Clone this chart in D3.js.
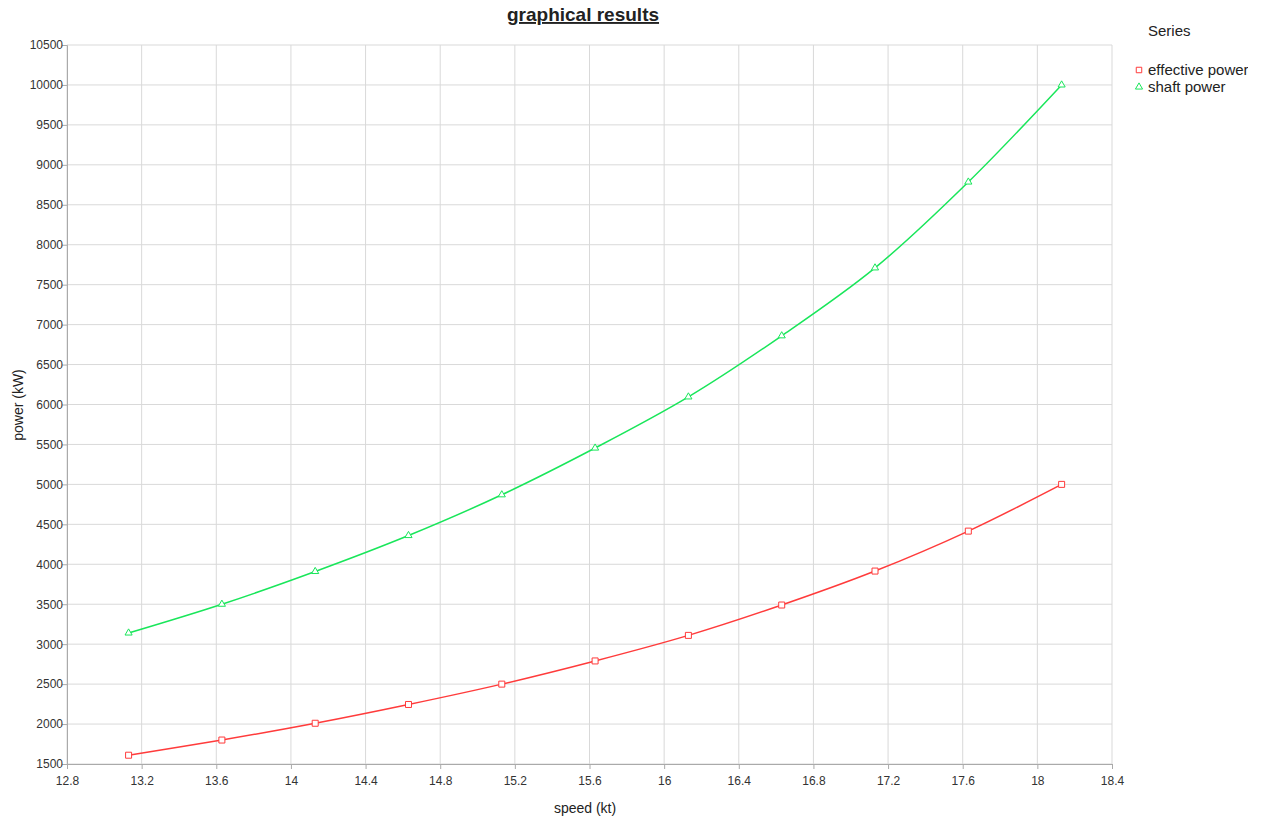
<!DOCTYPE html>
<html>
<head>
<meta charset="utf-8">
<script src="https://cdn.jsdelivr.net/npm/d3@7"></script>
<style>
  body { margin: 0; background: #fff; font-family: "Liberation Sans", Arial, sans-serif; }
  .tick text { fill: #333; font-size: 12px; }
</style>
</head>
<body>
<script>
const w = 1268, h = 821

// speed (kt)
const speeds = [13.13, 13.63, 14.13, 14.63, 15.13, 15.63, 16.13, 16.63, 17.13, 17.63, 18.13]
// power (kW)
const effectivePower = [1610, 1800, 2010, 2245, 2500, 2790, 3110, 3490, 3915, 4415, 5000]
const shaftPower = [3140, 3500, 3910, 4360, 4870, 5455, 6095, 6860, 7710, 8785, 10000]

const xTicks = [12.8, 13.2, 13.6, 14, 14.4, 14.8, 15.2, 15.6, 16, 16.4, 16.8, 17.2, 17.6, 18, 18.4]
const yTicks = d3.range(1500, 10501, 500)

const seriesNames = ['effective power', 'shaft power']
const seriesColors = ['#ff3b3b', '#19e65a']

const margin = { left: 67, right: 156, top: 45, bottom: 57 }

const svg = d3.select('body')
    .append('svg')
    .attr('width', w)
    .attr('height', h)

svg.append('clipPath')
    .attr('id', 'legend-clip')
    .append('rect')
    .attr('x', 1120)
    .attr('y', 0)
    .attr('width', 128)
    .attr('height', 200)

const xScale = d3.scaleLinear()
    .domain([12.8, 18.4])
    .range([margin.left, w - margin.right])

const yScale = d3.scaleLinear()
    .domain([1500, 10500])
    .range([h - margin.bottom, margin.top])

// grid
svg.append('g')
    .selectAll('line')
    .data(xTicks)
    .enter()
    .append('line')
    .attr('x1', d => xScale(d))
    .attr('x2', d => xScale(d))
    .attr('y1', yScale(1500))
    .attr('y2', yScale(10500))
    .attr('stroke', '#d9d9d9')

svg.append('g')
    .selectAll('line')
    .data(yTicks)
    .enter()
    .append('line')
    .attr('x1', xScale(12.8))
    .attr('x2', xScale(18.4))
    .attr('y1', d => yScale(d))
    .attr('y2', d => yScale(d))
    .attr('stroke', '#d9d9d9')

const xAxis = d3.axisBottom(xScale).tickValues(xTicks).tickFormat(d3.format('')).tickSizeOuter(0).tickSize(5)
const yAxis = d3.axisLeft(yScale).tickValues(yTicks).tickFormat(d3.format('d')).tickSizeOuter(0).tickSize(5)

const gx = svg.append('g')
    .attr('transform', 'translate(0, ' + yScale(1500) + ')')
    .call(xAxis)
gx.selectAll('.tick text').attr('dy', '1.1em')

const gy = svg.append('g')
    .attr('transform', 'translate(' + xScale(12.8) + ', 0)')
    .call(yAxis)
gy.selectAll('.tick text').attr('x', -4)

svg.selectAll('.domain, .tick line').attr('stroke', '#aaa')

// series
const series = [effectivePower, shaftPower]
const line = d3.line()
    .x((d, i) => xScale(speeds[i]))
    .y(d => yScale(d))
    .curve(d3.curveCatmullRom)

series.forEach((vals, s) => {
    svg.append('path')
        .datum(vals)
        .attr('d', line)
        .attr('fill', 'none')
        .attr('stroke', seriesColors[s])
        .attr('stroke-width', 1.5)

    const sym = d3.symbol().type(s === 0 ? d3.symbolSquare : d3.symbolTriangle).size(s === 0 ? 36 : 22)
    svg.append('g')
        .selectAll('path')
        .data(vals)
        .enter()
        .append('path')
        .attr('d', sym)
        .attr('transform', (d, i) => `translate(${xScale(speeds[i])}, ${yScale(d)})`)
        .attr('fill', '#fff')
        .attr('stroke', seriesColors[s])
        .attr('stroke-width', 1)
})

// titles
svg.append('text')
    .attr('x', 583)
    .attr('y', 21)
    .attr('text-anchor', 'middle')
    .style('font-size', '19px')
    .style('font-weight', 'bold')
    .style('text-decoration', 'underline')
    .attr('fill', '#222')
    .text('graphical results')

svg.append('text')
    .attr('x', 585)
    .attr('y', 813)
    .attr('text-anchor', 'middle')
    .style('font-size', '14px')
    .attr('fill', '#222')
    .text('speed (kt)')

svg.append('text')
    .attr('transform', 'rotate(-90, 23, 405)')
    .attr('x', 23)
    .attr('y', 405)
    .attr('text-anchor', 'middle')
    .style('font-size', '14px')
    .attr('fill', '#222')
    .text('power (kW)')

// legend
const lg = svg.append('g').attr('clip-path', 'url(#legend-clip)')

lg.append('text')
    .attr('x', 1148)
    .attr('y', 36)
    .style('font-size', '15px')
    .attr('fill', '#222')
    .text('Series')

const legend = lg.selectAll('.legend')
    .data(seriesNames)
    .enter()
    .append('g')
    .attr('class', 'legend')
    .attr('transform', (d, i) => `translate(1139, ${70 + i * 17})`)

legend.append('path')
    .attr('d', (d, i) => d3.symbol().type(i === 0 ? d3.symbolSquare : d3.symbolTriangle).size(i === 0 ? 30 : 22)())
    .attr('fill', '#fff')
    .attr('stroke', (d, i) => seriesColors[i])

legend.append('text')
    .attr('x', 9)
    .attr('y', 5)
    .style('font-size', '15px')
    .attr('fill', '#222')
    .text(d => d)
</script>
</body>
</html>
